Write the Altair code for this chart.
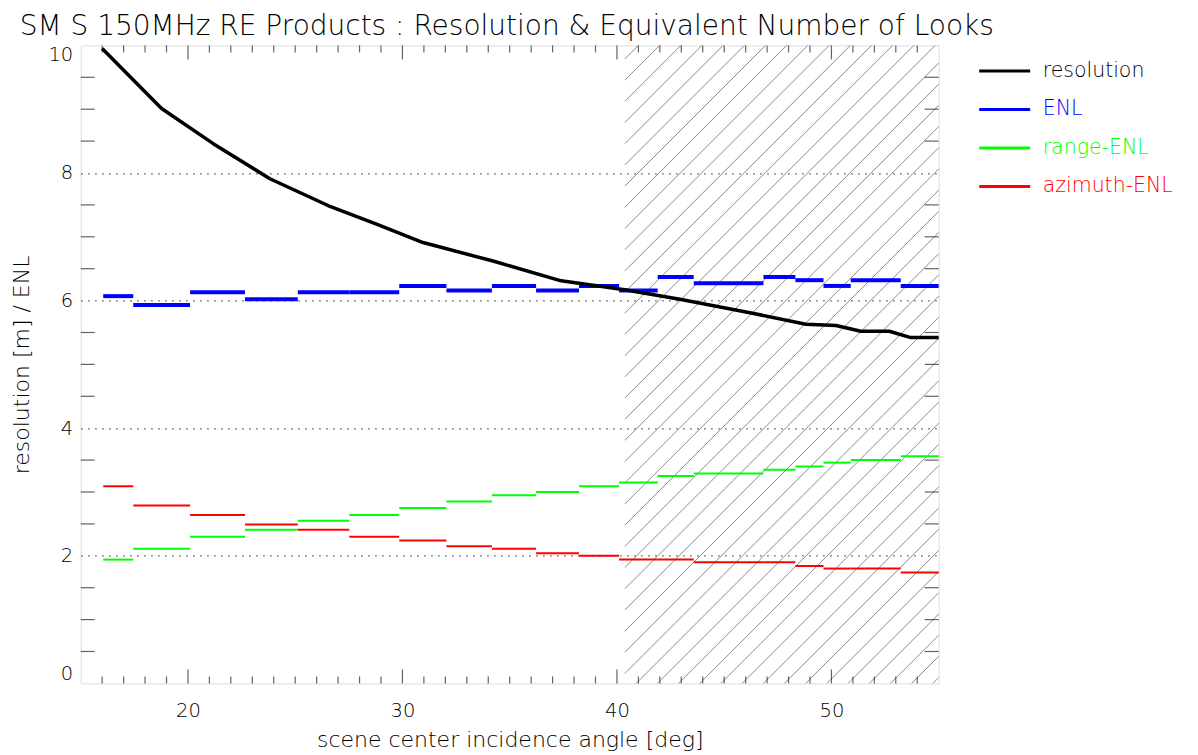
import altair as alt
import pandas as pd

# ---------------- data ----------------
SERIES = ["resolution", "ENL", "range-ENL", "azimuth-ENL"]
COLORS = ["#000000", "#0000ff", "#00ff00", "#ff0000"]

# resolution [m] vs scene centre incidence angle [deg]
res_angle = [16.0, 18.77, 21.18, 23.82, 26.53, 28.79, 30.96, 34.22, 37.4,
             40.36, 42.93, 46.2, 48.81, 50.21, 51.37, 52.7, 53.7, 55.0]
res_value = [9.95, 9.01, 8.46, 7.91, 7.49, 7.20, 6.91, 6.62, 6.31,
             6.17, 6.02, 5.81, 5.63, 5.61, 5.52, 5.52, 5.42, 5.42]

# product angle bands (edges) and per-band ENL values
band_edges = [16.05, 17.45, 20.1, 22.66, 25.12, 27.52, 29.85, 32.05, 34.17, 36.23,
              38.23, 40.1, 41.9, 43.58, 46.83, 48.32, 49.63, 50.9, 53.23, 55.0]
enl = [6.07, 5.93, 6.13, 6.02, 6.13, 6.13, 6.23, 6.16, 6.23, 6.16,
       6.23, 6.16, 6.37, 6.27, 6.37, 6.32, 6.23, 6.32, 6.23]
range_enl = [1.94, 2.11, 2.30, 2.41, 2.55, 2.64, 2.75, 2.85, 2.95, 3.00,
             3.09, 3.15, 3.25, 3.29, 3.35, 3.40, 3.46, 3.50, 3.56]
azimuth_enl = [3.09, 2.79, 2.64, 2.49, 2.41, 2.30, 2.24, 2.15, 2.11, 2.04,
               2.00, 1.94, 1.94, 1.90, 1.90, 1.84, 1.80, 1.80, 1.74]

# axes
XMIN, XMAX = 15, 55
YMIN, YMAX = 0, 10
x_labels = [20, 30, 40, 50]
x_minor = [v for v in range(16, 55) if v % 10 != 0]
y_labels = [0, 2, 4, 6, 8, 10]
y_minor = [v / 2 for v in range(1, 20) if v % 4 != 0]

# hatched (out of range) zone
HATCH_START = 40.37
HATCH_PHASE = 41.0   # angle where first hatch line meets the top
HATCH_STEP = 0.988   # spacing of hatch lines along the top [deg]

TITLE = "SM S 150MHz RE Products : Resolution & Equivalent Number of Looks"
X_TITLE = "scene center incidence angle [deg]"
Y_TITLE = "resolution [m] / ENL"

# ---------------- layout ----------------
W, H = 858, 638
FONT = "DejaVu Sans"
WEIGHT = 300
FRAME = "#222222"

# ---------------- tables ----------------
res_df = pd.DataFrame({"x": res_angle, "y": res_value, "series": "resolution"})


def steps(vals, name):
    return pd.DataFrame({"x": band_edges[:-1], "x2": band_edges[1:],
                         "y": vals, "series": name})


enl_df = steps(enl, "ENL")
rng_df = steps(range_enl, "range-ENL")
az_df = steps(azimuth_enl, "azimuth-ENL")

# 45 degree hatch lines in data units
run = (H / (YMAX - YMIN)) / (W / (XMAX - XMIN))
rows = []
k = 0
while True:
    xt = HATCH_PHASE + k * HATCH_STEP
    k += 1
    if xt - (YMAX - YMIN) * run > XMAX:
        break
    if xt > XMAX:
        x_top, y_top = XMAX, YMAX - (xt - XMAX) / run
    else:
        x_top, y_top = xt, YMAX
    xb = xt - (YMAX - YMIN) * run
    if xb >= HATCH_START:
        x_bot, y_bot = xb, YMIN
    else:
        x_bot, y_bot = HATCH_START, YMAX - (xt - HATCH_START) / run
    if y_top > y_bot:
        rows.append({"x": x_bot, "y": y_bot, "x2": x_top, "y2": y_top})
hatch_df = pd.DataFrame(rows)

xs = alt.Scale(domain=[XMIN, XMAX], nice=False, zero=False)
ys = alt.Scale(domain=[YMIN, YMAX], nice=False, zero=False)

label_color_expr = ("datum.label == 'resolution' ? '#000000' : "
                    "datum.label == 'ENL' ? '#0000ff' : "
                    "datum.label == 'range-ENL' ? '#00ff00' : '#ff0000'")

color = alt.Color(
    "series:N",
    scale=alt.Scale(domain=SERIES, range=COLORS),
    legend=alt.Legend(
        orient="none", legendX=897, legendY=7.5, title=None,
        symbolType="stroke", symbolSize=2601, symbolStrokeWidth=3,
        labelFont=FONT, labelFontSize=20.5, labelFontWeight=WEIGHT, labelOffset=11,
        clipHeight=36, rowPadding=2.5, padding=0,
        labelColor={"expr": label_color_expr},
    ),
)

x_axis = alt.Axis(values=x_labels, title=X_TITLE, ticks=False, domain=False, grid=False,
                  labelFont=FONT, labelFontSize=19.5, labelFontWeight=WEIGHT,
                  labelColor="#000000", labelPadding=18.5, titleFont=FONT,
                  titleFontSize=22, titleFontWeight=WEIGHT, titleColor="#000000",
                  titleBaseline="alphabetic", titlePadding=25.7, format="d")
y_axis = alt.Axis(values=y_labels, title=Y_TITLE, ticks=False, domain=False, grid=True,
                  gridDash=[1.5, 5.5], gridColor="#222222", gridWidth=1,
                  gridOpacity={"condition": {"test": "datum.value == 0 || datum.value == 10",
                                             "value": 0}, "value": 1},
                  labelFont=FONT, labelFontSize=19.5, labelFontWeight=WEIGHT,
                  labelColor="#000000", labelPadding=8, labelFlush=True,
                  titleFont=FONT, titleFontSize=22, titleFontWeight=WEIGHT,
                  titleColor="#000000", titleBaseline="alphabetic", titlePadding=19.5,
                  format="d")

hatch = alt.Chart(hatch_df).mark_rule(color="#8a8a8a", strokeWidth=1).encode(
    x=alt.X("x:Q", scale=xs, axis=x_axis),
    y=alt.Y("y:Q", scale=ys, axis=y_axis),
    x2="x2:Q", y2="y2:Q",
)

# inward ticks on all four sides
left_ticks = alt.Chart(pd.DataFrame({"x": XMIN, "y": y_minor})).mark_tick(
    orient="horizontal", size=14, thickness=1.2, color=FRAME, xOffset=7
).encode(x=alt.X("x:Q", scale=xs), y=alt.Y("y:Q", scale=ys))
right_ticks = alt.Chart(pd.DataFrame({"x": XMAX, "y": y_minor})).mark_tick(
    orient="horizontal", size=14, thickness=1.2, color=FRAME, xOffset=-7
).encode(x=alt.X("x:Q", scale=xs), y=alt.Y("y:Q", scale=ys))
bot_major = alt.Chart(pd.DataFrame({"x": x_labels, "y": YMIN})).mark_tick(
    orient="vertical", size=14, thickness=1.2, color=FRAME, yOffset=-7
).encode(x=alt.X("x:Q", scale=xs), y=alt.Y("y:Q", scale=ys))
bot_minor = alt.Chart(pd.DataFrame({"x": x_minor, "y": YMIN})).mark_tick(
    orient="vertical", size=7, thickness=1.2, color=FRAME, yOffset=-3.5
).encode(x=alt.X("x:Q", scale=xs), y=alt.Y("y:Q", scale=ys))
top_major = alt.Chart(pd.DataFrame({"x": x_labels, "y": YMAX})).mark_tick(
    orient="vertical", size=14, thickness=1.2, color=FRAME, yOffset=7
).encode(x=alt.X("x:Q", scale=xs), y=alt.Y("y:Q", scale=ys))
top_minor = alt.Chart(pd.DataFrame({"x": x_minor, "y": YMAX})).mark_tick(
    orient="vertical", size=7, thickness=1.2, color=FRAME, yOffset=3.5
).encode(x=alt.X("x:Q", scale=xs), y=alt.Y("y:Q", scale=ys))


def step_layer(df, width):
    return alt.Chart(df).mark_rule(strokeWidth=width).encode(
        x=alt.X("x:Q", scale=xs), x2="x2:Q",
        y=alt.Y("y:Q", scale=ys), color=color,
    )


az_layer = step_layer(az_df, 2)
rng_layer = step_layer(rng_df, 2)
enl_layer = step_layer(enl_df, 4)
res_layer = alt.Chart(res_df).mark_line(strokeWidth=3.5, strokeJoin="round").encode(
    x=alt.X("x:Q", scale=xs), y=alt.Y("y:Q", scale=ys), color=color,
)

chart = alt.layer(
    hatch, left_ticks, right_ticks, bot_major, bot_minor, top_major, top_minor,
    az_layer, rng_layer, enl_layer, res_layer,
).properties(
    width=W, height=H,
    title=alt.TitleParams(TITLE, anchor="start", frame="group", dx=-61, dy=32.5,
                          offset=13.7, baseline="alphabetic", font=FONT,
                          fontSize=28, fontWeight=WEIGHT, color="#000000"),
    autosize=alt.AutoSizeParams(type="none"),
    padding={"left": 72.7, "top": 37.4, "right": 240, "bottom": 71},
).configure_view(
    stroke=FRAME, strokeWidth=1.5
).configure(background="#ffffff")

chart.save("out.html", embed_options={"renderer": "svg", "actions": False})
